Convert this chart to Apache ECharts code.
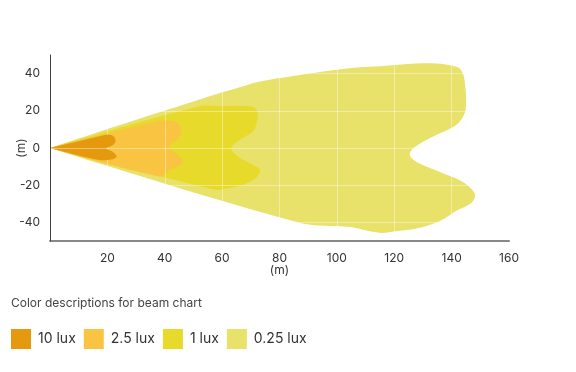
<!DOCTYPE html>
<html>
<head>
<meta charset="utf-8">
<script src="https://cdn.jsdelivr.net/npm/echarts@6/dist/echarts.min.js"></script>
<style>
  html, body { margin: 0; padding: 0; background: #fff; }
  #chart { width: 576px; height: 372px; }
</style>
</head>
<body>
<div id="chart"></div>
<script>
// ---- data (x: distance in m, y: lateral offset in m) ----
const seriesNames = ['0.25 lux', '1 lux', '2.5 lux', '10 lux'];
const legendOrder = ['10 lux', '2.5 lux', '1 lux', '0.25 lux'];
const seriesColors = ['#E8E26B', '#E7DA2A', '#F9C441', '#E5990F'];

const beam025 = [
  [0, 0], [69.6, 34.3], [87.0, 39.2], [104.5, 42.9], [114.95, 44.0], [132.4, 45.6],
  [142.2, 43.4], [143.9, 39.9], [144.6, 35.3], [145.0, 26.2], [144.6, 19.0],
  [141.7, 12.5], [132.4, 5.3], [126.6, -0.2], [125.4, -3.8], [127.8, -7.5],
  [135.9, -12.9], [144.05, -18.4], [148.1, -24.7], [147.0, -29.3], [141.7, -33.8],
  [135.9, -39.2], [128.9, -42.9], [120.8, -44.7], [114.95, -45.6], [104.5, -42.5],
  [87.0, -40.2]
];
const beam1 = [
  [0, 0], [52.1, 22.5], [59.1, 22.6], [67.25, 22.6], [70.6, 22.1], [72.2, 19.9],
  [72.2, 14.3], [70.7, 8.9], [66.1, 4.4], [63.2, -0.2], [65.4, -4.4], [70.3, -8.7],
  [73.25, -12.0], [71.7, -16.1], [67.5, -19.6], [62.6, -21.5], [57.4, -22.3]
];
const beam25 = [
  [0, 0], [37.0, 14.3], [40.95, 14.8], [44.0, 14.1], [45.5, 11.4], [45.7, 8.0],
  [44.1, 4.4], [41.5, 0.8], [42.35, -1.1], [44.55, -3.8], [46.3, -6.8],
  [45.1, -9.5], [41.65, -12.0], [38.15, -15.3]
];
const beam10 = [
  [0, 0], [17.2, 6.3], [19.55, 7.1], [21.4, 6.9], [22.45, 5.8], [22.8, 3.4],
  [21.75, 1.4], [19.55, -0.2], [21.85, -2.0], [23.25, -4.4], [22.45, -5.7],
  [21.3, -6.2], [17.2, -6.5]
];
const shapes = [beam025, beam1, beam25, beam10];

const xTicks = { min: 0, max: 160, interval: 20 };
const yTicks = { min: -50, max: 50 };

// Closed non-uniform Catmull-Rom outline (in pixel space); the first point
// (beam origin) is kept as a sharp corner.
function smoothOutline(pts) {
  const n = pts.length, out = [], steps = 16;
  const d = (a, b) => Math.hypot(b[0] - a[0], b[1] - a[1]) || 1e-6;
  for (let i = 0; i < n; i++) {
    const i0 = (i - 1 + n) % n, i2 = (i + 1) % n, i3 = (i + 2) % n;
    const p0 = pts[i0], p1 = pts[i], p2 = pts[i2], p3 = pts[i3];
    const d01 = d(p0, p1), d12 = d(p1, p2), d23 = d(p2, p3);
    let m1 = [0, 0], m2 = [0, 0];
    if (i !== 0) {
      const k = d12 / (d01 + d12);
      m1 = [(p2[0] - p0[0]) * k, (p2[1] - p0[1]) * k];
    }
    if (i2 !== 0) {
      const k = d12 / (d12 + d23);
      m2 = [(p3[0] - p1[0]) * k, (p3[1] - p1[1]) * k];
    }
    for (let s = 0; s < steps; s++) {
      const t = s / steps, t2 = t * t, t3 = t2 * t;
      const h00 = 2 * t3 - 3 * t2 + 1, h10 = t3 - 2 * t2 + t;
      const h01 = -2 * t3 + 3 * t2, h11 = t3 - t2;
      out.push([
        h00 * p1[0] + h10 * m1[0] + h01 * p2[0] + h11 * m2[0],
        h00 * p1[1] + h10 * m1[1] + h01 * p2[1] + h11 * m2[1]
      ]);
    }
  }
  return out;
}

const FONT = 'Inter, "Noto Sans", sans-serif';
const chart = echarts.init(document.getElementById('chart'), null, { renderer: 'canvas' });

const series = shapes.map((shape, si) => ({
  name: seriesNames[si],
  type: 'custom',
  coordinateSystem: 'cartesian2d',
  z: 2 + si,
  itemStyle: { color: seriesColors[si] },
  data: [shape[0]],
  renderItem: function (params, api) {
    const pix = shapes[params.seriesIndex].map(p => api.coord(p));
    return {
      type: 'polygon',
      shape: { points: smoothOutline(pix) },
      style: { fill: seriesColors[params.seriesIndex], stroke: null }
    };
  }
}));

chart.setOption({
  animation: false,
  textStyle: { fontFamily: FONT },
  title: {
    text: 'Color descriptions for beam chart',
    left: 6, top: 292,
    textStyle: { fontFamily: FONT, fontSize: 12, fontWeight: 'normal', color: '#444' }
  },
  legend: {
    data: legendOrder,
    left: 6, top: 324,
    icon: 'rect',
    itemWidth: 20, itemHeight: 20, itemGap: 8,
    textStyle: { fontFamily: FONT, fontSize: 14, color: '#333', padding: [0, 0, 0, 2] }
  },
  grid: { left: 50, right: 67, top: 55, bottom: 131, containLabel: false, outerBoundsMode: 'none' },
  xAxis: {
    type: 'value',
    min: xTicks.min, max: xTicks.max, interval: xTicks.interval,
    z: 5,
    name: '(m)', nameLocation: 'middle', nameGap: 23, nameMoveOverlap: false,
    nameTextStyle: { fontFamily: FONT, fontSize: 12, color: '#333' },
    axisLine: { show: true, onZero: false, lineStyle: { color: '#888', width: 2 } },
    axisTick: { show: false },
    axisLabel: { showMinLabel: false, margin: 11, fontFamily: FONT, fontSize: 12, color: '#333' },
    splitLine: { show: true, showMinLine: false, showMaxLine: false, lineStyle: { color: 'rgba(255,255,255,0.4)', width: 1 } }
  },
  yAxis: {
    type: 'value',
    min: yTicks.min, max: yTicks.max, splitNumber: 5,
    z: 6,
    name: '(m)', nameLocation: 'middle', nameGap: 23, nameRotate: 90, nameMoveOverlap: false,
    nameTextStyle: { fontFamily: FONT, fontSize: 12, color: '#333' },
    axisLine: { show: true, onZero: false, lineStyle: { color: '#444', width: 1 } },
    axisTick: { show: false },
    axisLabel: { showMinLabel: false, showMaxLabel: false, margin: 10, fontFamily: FONT, fontSize: 12, color: '#333' },
    splitLine: { show: true, showMinLine: false, showMaxLine: false, lineStyle: { color: 'rgba(255,255,255,0.4)', width: 1 } }
  },
  series: series
});
</script>
</body>
</html>
